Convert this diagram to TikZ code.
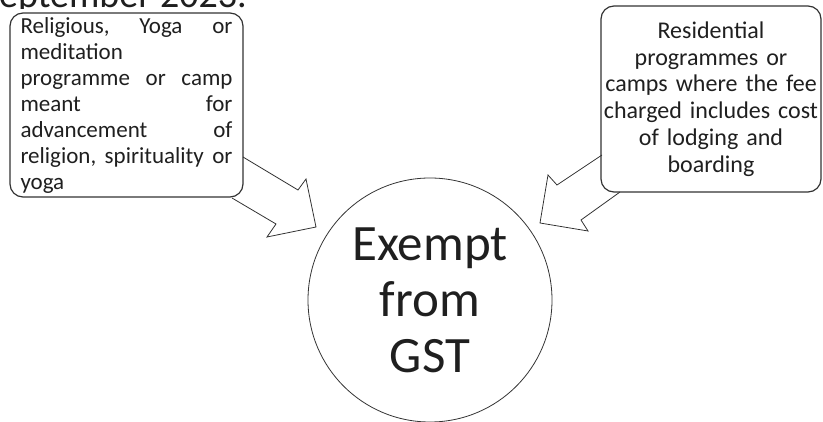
\documentclass[tikz,border=0pt]{standalone}
\usepackage{fontspec}
\setmainfont{Carlito}
\begin{document}
\begin{tikzpicture}[x=1pt,y=-1pt,
  txt/.style={text=black!88},
  box/.style={draw=black!80, line width=1.2pt, rounded corners=13pt, inner sep=0pt, txt},
  blockarrow/.style={draw=black!80, line width=0.8pt, line join=miter},
  hub/.style={draw=black!80, line width=0.8pt, circle, inner sep=0pt, minimum size=244pt, txt}
]
\useasboundingbox (0,0) rectangle (823,422);
% cropped heading
\begin{scope}
  \clip (0,0) rectangle (823,9);
  \node[txt, anchor=base east, inner sep=0pt, font=\fontsize{38}{40}\selectfont] (title) at (247,7.5) {September 2023.};
\end{scope}
% left box
\node[box, minimum width=233pt, minimum height=184pt, align=left, text width=212pt,
      font=\fontsize{23}{26}\selectfont] (left) at (126.5,105)
  {Religious,\hfill Yoga\hfill or\\
   meditation\\
   programme\hfill or\hfill camp\\
   meant\hfill for\\
   advancement\hfill of\\
   religion,\hfill spirituality\hfill or\\
   yoga};
% right box
\node[box, minimum width=220pt, minimum height=186pt, align=center, text width=218pt,
      font=\fontsize{24}{26.8}\selectfont] (right) at (711,99)
  {Residential\\ programmes or\\ camps where the fee\\ charged includes cost\\ of lodging and\\ boarding};
% centre
\node[hub, font=\fontsize{51}{56}\selectfont, align=center] (gst) at (430,300) {Exempt\\ from\\ GST};
% block arrows
\coordinate (la1) at (243,157);
\coordinate (la2) at (232,198);
\coordinate (ra1) at (602,155);
\coordinate (ra2) at (620,192);
\draw[blockarrow] (la1) -- (298,190) -- (306,179) -- (316,227) -- (267,237) -- (276,224) -- (la2);
\draw[blockarrow] (ra1) -- (557,185) -- (548,175) -- (540,223) -- (588,231) -- (581,220) -- (ra2);
\end{tikzpicture}
\end{document}
